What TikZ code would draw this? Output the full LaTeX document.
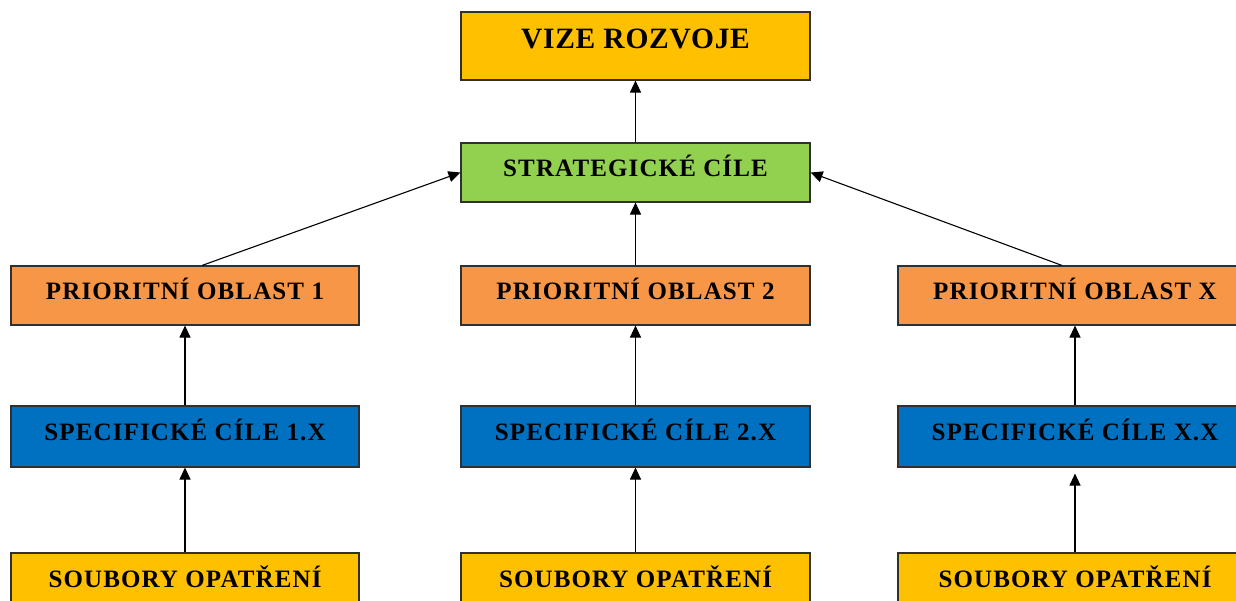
\documentclass[tikz,border=0pt]{standalone}
\usepackage{fontspec}
\setmainfont{Liberation Serif}
\newfontfamily\boxfont[LetterSpace=4.5]{Liberation Serif}
\newfontfamily\titlefont[LetterSpace=2.5]{Liberation Serif}
\usetikzlibrary{arrows.meta}
\definecolor{cYellow}{HTML}{FFC000}
\definecolor{cGreen}{HTML}{92D050}
\definecolor{cOrange}{HTML}{F79646}
\definecolor{cBlue}{HTML}{0070C0}
\definecolor{cBorder}{HTML}{303030}
\begin{document}
\begin{tikzpicture}[x=1pt,y=-1pt,
  box/.style={draw=cBorder,line width=1.1pt,rectangle,inner sep=0pt,
    minimum width=349pt,minimum height=59pt,
    font=\boxfont\fontsize{25}{30}\selectfont\bfseries,
    text height=17pt,text depth=8.5pt},
  arr/.style={draw=black,line width=1.1pt,-{Triangle[length=12pt,width=11pt]}}
]
\useasboundingbox (0,0) rectangle (1236,600);
\begin{scope}
\clip (0,0) rectangle (1236,600);
\node[box,fill=cYellow,minimum height=68pt,font=\titlefont\fontsize{29.5}{34}\selectfont\bfseries,
  text height=20pt,text depth=16pt] (vize) at (635.5,46) {VIZE ROZVOJE};
\node[box,fill=cGreen] (strat) at (635.5,172.5) {STRATEGICKÉ CÍLE};

\node[box,fill=cOrange,minimum width=348pt] (p1) at (185,295.5) {PRIORITNÍ OBLAST 1};
\node[box,fill=cOrange] (p2) at (635.5,295.5) {PRIORITNÍ OBLAST 2};
\node[box,fill=cOrange,minimum width=354pt] (px) at (1075,295.5) {PRIORITNÍ OBLAST X};

\node[box,fill=cBlue,minimum width=348pt,minimum height=61pt] (s1) at (185,436.5) {SPECIFICKÉ CÍLE 1.X};
\node[box,fill=cBlue,minimum height=61pt] (s2) at (635.5,436.5) {SPECIFICKÉ CÍLE 2.X};
\node[box,fill=cBlue,minimum width=354pt,minimum height=61pt] (sx) at (1075,436.5) {SPECIFICKÉ CÍLE X.X};

\node[box,fill=cYellow,minimum width=348pt,minimum height=60pt] (o1) at (185,583) {SOUBORY OPATŘENÍ};
\node[box,fill=cYellow,minimum height=60pt] (o2) at (635.5,583) {SOUBORY OPATŘENÍ};
\node[box,fill=cYellow,minimum width=354pt,minimum height=60pt] (ox) at (1075,583) {SOUBORY OPATŘENÍ};
\end{scope}

\draw[arr] (strat.north) -- (vize.south);
\draw[arr] (p2.north) -- (strat.south);
\draw[arr] ([xshift=17pt]p1.north) -- (strat.west);
\draw[arr] ([xshift=-13pt]px.north) -- (strat.east);

\draw[arr] (s1.north) -- (p1.south);
\draw[arr] (s2.north) -- (p2.south);
\draw[arr] (sx.north) -- (px.south);

\draw[arr] (o1.north) -- (s1.south);
\draw[arr] (o2.north) -- (s2.south);
\draw[arr,shorten >=6pt] (ox.north) -- (sx.south);
\end{tikzpicture}
\end{document}
